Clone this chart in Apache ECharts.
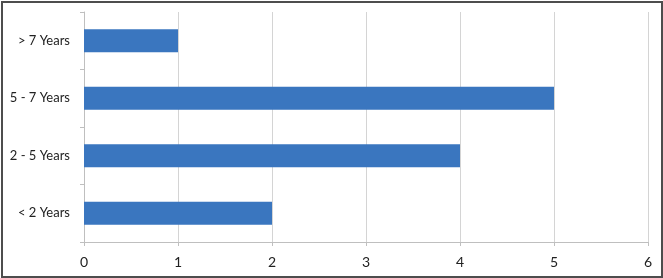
<!DOCTYPE html>
<html><head><meta charset="utf-8">
<script src="https://cdn.jsdelivr.net/npm/echarts@6/dist/echarts.min.js"></script>
<style>
html,body{margin:0;padding:0;background:#fff;}
#frame{position:absolute;left:1px;top:1px;width:658px;height:273px;border:2px solid #4d4d4d;}
#c{position:absolute;left:0;top:0;width:663px;height:278px;}
</style></head>
<body>
<div id="frame"></div>
<div id="c"></div>
<script>
const categories = ['< 2 Years', '2 - 5 Years', '5 - 7 Years', '> 7 Years'];
const values = [2, 4, 5, 1];
const xTicks = [0, 1, 2, 3, 4, 5, 6];

const chart = echarts.init(document.getElementById('c'), null, {renderer: 'canvas'});
chart.setOption({
  animation: false,
  backgroundColor: 'transparent',
  grid: {left: 84, right: 15, top: 12, bottom: 36, containLabel: false},
  xAxis: {
    type: 'value', min: xTicks[0], max: xTicks[xTicks.length - 1], interval: 1,
    axisLine: {show: true, lineStyle: {color: '#bfbfbf', width: 1}},
    axisTick: {show: true, length: 4, lineStyle: {color: '#bfbfbf'}},
    splitLine: {show: true, lineStyle: {color: '#d4d4d4', width: 1}},
    axisLabel: {color: '#222', fontFamily: 'Lato', fontSize: 14, margin: 13}
  },
  yAxis: {
    type: 'category', data: categories,
    axisLine: {show: true, lineStyle: {color: '#bfbfbf', width: 1}},
    axisTick: {show: true, length: 4, lineStyle: {color: '#bfbfbf'}},
    axisLabel: {color: '#222', fontFamily: 'Lato', fontSize: 13, margin: 14}
  },
  series: [{
    type: 'bar', data: values, barWidth: '40%',
    itemStyle: {color: '#3a76bf'}
  }]
});
</script>
</body></html>
